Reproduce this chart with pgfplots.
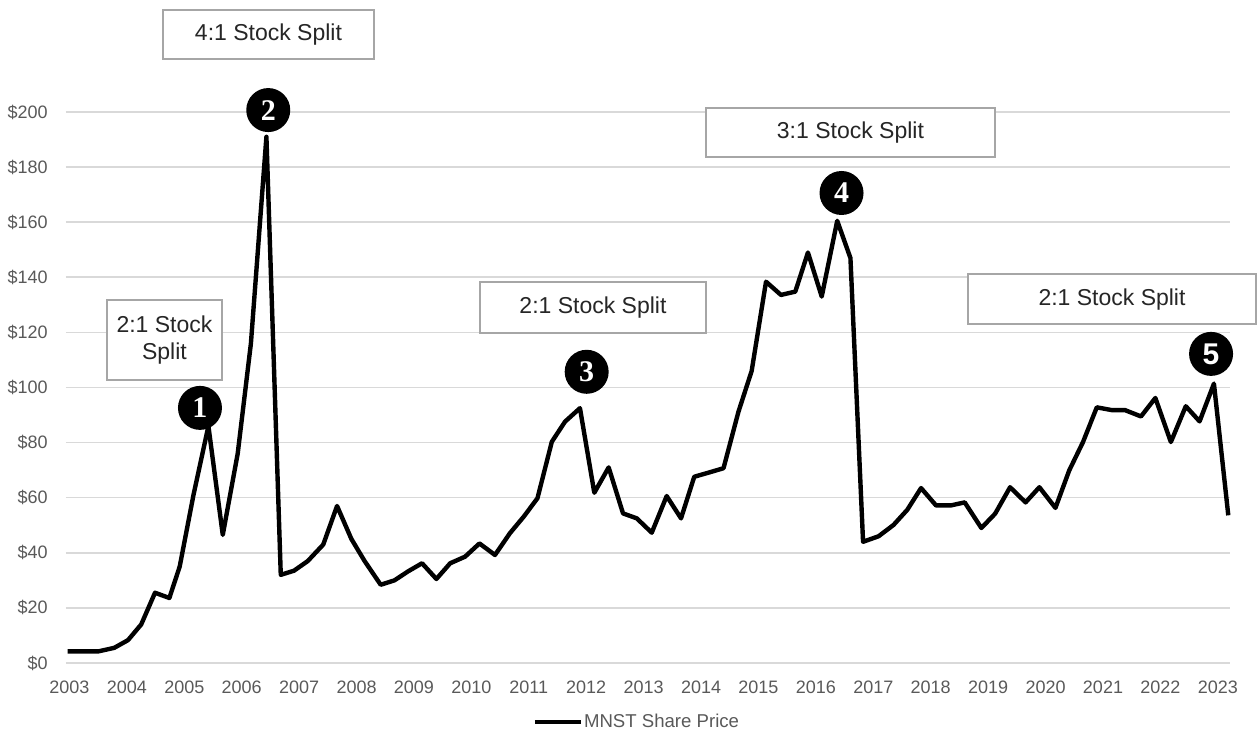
\documentclass[border=0pt]{standalone}
\usepackage{fontspec}
\setmainfont{Liberation Sans}
\newfontfamily\numfont{Liberation Serif}
\usepackage{pgfplots}
\pgfplotsset{compat=1.18}
\definecolor{gridgray}{HTML}{D9D9D9}
\definecolor{ticktext}{HTML}{595959}
\definecolor{boxline}{HTML}{A6A6A6}
\definecolor{boxtext}{HTML}{262626}

\tikzset{
  splitbox/.style={boxline, line width=0.8pt, fill=white},
  splittext/.style={text=boxtext, font=\fontsize{11.5}{13.5}\selectfont, align=center},
  badge/.style={circle, fill=black, minimum size=22pt, inner sep=0pt, text=white,
    font=\numfont\bfseries\fontsize{15}{15}\selectfont},
}

\begin{document}
\begin{tikzpicture}
\useasboundingbox (-33pt,-37.5pt) rectangle (595.5pt,331.5pt);
\begin{axis}[
  at={(0pt,0pt)}, anchor=south west,
  scale only axis, width=582pt, height=275.5pt,
  xmin=2002.94, xmax=2023.21, ymin=0, ymax=200,
  xtick={2003,2004,...,2023}, ytick={0,20,...,200},
  /pgf/number format/assume math mode=true,
  xticklabel style={/pgf/number format/1000 sep={}, anchor=north, inner sep=0pt, yshift=-9pt,
    text=ticktext, font=\fontsize{9}{10}\selectfont},
  yticklabel={\$\pgfmathprintnumber{\tick}},
  yticklabel style={anchor=east, inner sep=0pt, xshift=-9pt,
    text=ticktext, font=\fontsize{9}{10}\selectfont},
  major tick length=0pt,
  axis line style={draw=none},
  ymajorgrids,
  major grid style={gridgray, line width=0.8pt},
  clip=false,
  legend style={at={(0.49,-0.107)}, anchor=center, draw=none, fill=none,
    nodes={inner sep=0.5pt},
    font=\fontsize{9.3}{11}\selectfont, text=ticktext},
  legend image code/.code={\draw[#1] (0pt,0pt) -- (23pt,0pt);},
]

% annotation boxes
\draw[splitbox] (axis cs:2003.653,131.8) rectangle (axis cs:2005.656,102.7);
\node[splittext] at (axis cs:2004.655,117.25) {2:1 Stock\\Split};
\draw[splitbox] (axis cs:2004.628,237.0) rectangle (axis cs:2008.303,219.2);
\node[splittext] at (axis cs:2006.466,228.1) {4:1 Stock Split};
\draw[splitbox] (axis cs:2010.149,138.3) rectangle (axis cs:2014.085,119.8);
\node[splittext] at (axis cs:2012.117,129.05) {2:1 Stock Split};
\draw[splitbox] (axis cs:2014.085,201.5) rectangle (axis cs:2019.118,183.7);
\node[splittext] at (axis cs:2016.60,192.6) {3:1 Stock Split};
\draw[splitbox] (axis cs:2018.647,141.2) rectangle (axis cs:2023.663,123.0);
\node[splittext] at (axis cs:2021.155,132.1) {2:1 Stock Split};

\addplot[black, line width=2.2pt, line join=round] table {
x y
2002.97 4.2
2003.22 4.2
2003.50 4.2
2003.78 5.5
2004.02 8.3
2004.25 14
2004.49 25.5
2004.74 23.6
2004.92 35
2005.16 61
2005.42 86
2005.67 46.5
2005.93 76
2006.16 116
2006.43 191
2006.68 32
2006.91 33.5
2007.15 37
2007.42 43
2007.66 57
2007.91 45
2008.14 37
2008.42 28.4
2008.66 30
2008.90 33.3
2009.14 36.2
2009.39 30.5
2009.63 36.2
2009.89 38.6
2010.14 43.4
2010.41 39.2
2010.67 47.1
2010.91 53.1
2011.15 59.8
2011.40 80.3
2011.63 87.6
2011.89 92.5
2012.14 61.8
2012.39 71.0
2012.64 54.3
2012.88 52.5
2013.14 47.3
2013.40 60.6
2013.65 52.5
2013.88 67.6
2014.13 69.1
2014.39 70.7
2014.65 91.2
2014.88 106
2015.13 138.4
2015.39 133.6
2015.64 134.8
2015.86 149
2016.10 133
2016.37 160.5
2016.60 147
2016.82 44
2017.09 46
2017.35 50.1
2017.59 55.6
2017.83 63.5
2018.09 57.2
2018.35 57.2
2018.59 58.3
2018.88 49
2019.12 54.2
2019.38 63.8
2019.65 58.3
2019.89 63.8
2020.17 56.3
2020.41 69.9
2020.65 80.2
2020.89 92.8
2021.15 91.8
2021.38 91.8
2021.66 89.5
2021.91 96.2
2022.18 80.2
2022.44 93.2
2022.68 87.7
2022.93 101.4
2023.18 53.6
};
\addlegendentry{MNST Share Price}

% numbered markers
\node[badge] at (axis cs:2005.273,92.6) {1};
\node[badge] at (axis cs:2006.462,200.7) {2};
\node[badge] at (axis cs:2012.007,105.7) {3};
\node[badge] at (axis cs:2016.445,170.6) {4};
\node[badge, font=\bfseries\fontsize{15}{15}\selectfont] at (axis cs:2022.880,112.2) {5};
\end{axis}
\end{tikzpicture}
\end{document}
